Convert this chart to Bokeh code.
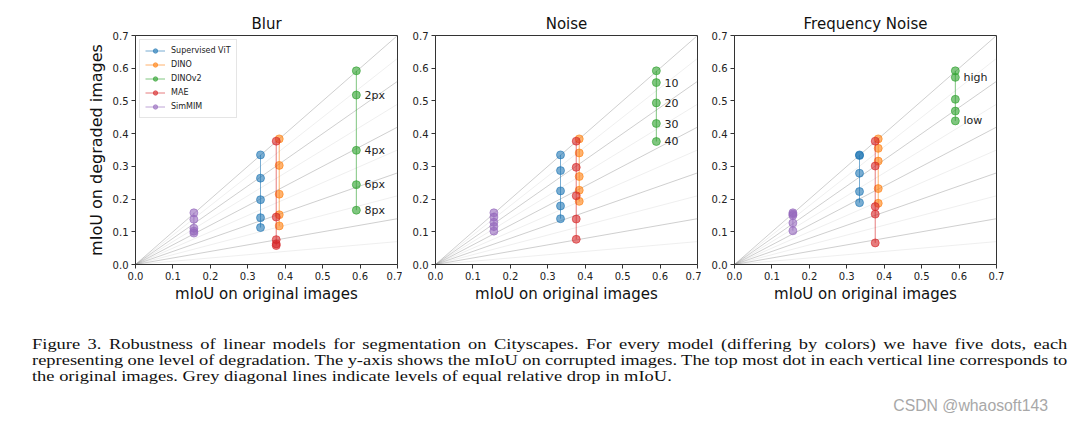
from bokeh.plotting import figure
from bokeh.layouts import row, column
from bokeh.models import Div, Range1d, FixedTicker, NumeralTickFormatter, Legend, LegendItem
from bokeh.embed import file_html
from bokeh.resources import INLINE
from bokeh.core.properties import value

# ---------------- data ----------------
models = ["Supervised ViT", "DINO", "DINOv2", "MAE", "SimMIM"]
colors = ["#1f77b4", "#ff7f0e", "#2ca02c", "#d62728", "#9467bd"]
orig_miou = [0.334, 0.384, 0.590, 0.376, 0.156]

panel_titles = ["Blur", "Noise", "Frequency Noise"]

blur_sup = [0.335, 0.264, 0.198, 0.143, 0.113]
blur_dino = [0.384, 0.303, 0.215, 0.152, 0.118]
blur_dinov2 = [0.592, 0.518, 0.349, 0.244, 0.166]
blur_mae = [0.377, 0.145, 0.076, 0.063, 0.058]
blur_simmim = [0.158, 0.138, 0.111, 0.102, 0.096]

noise_sup = [0.335, 0.287, 0.225, 0.179, 0.140]
noise_dino = [0.384, 0.341, 0.269, 0.227, 0.193]
noise_dinov2 = [0.592, 0.556, 0.494, 0.431, 0.376]
noise_mae = [0.377, 0.297, 0.210, 0.139, 0.077]
noise_simmim = [0.158, 0.145, 0.129, 0.116, 0.102]

freq_sup = [0.335, 0.333, 0.279, 0.223, 0.189]
freq_dino = [0.384, 0.355, 0.316, 0.232, 0.187]
freq_dinov2 = [0.592, 0.572, 0.505, 0.469, 0.439]
freq_mae = [0.377, 0.301, 0.177, 0.154, 0.066]
freq_simmim = [0.158, 0.154, 0.150, 0.127, 0.103]

blur_levels = ["", "2px", "4px", "6px", "8px"]
noise_levels = ["", "10", "20", "30", "40"]
freq_levels = ["", "high", "", "", "low"]

dark_slopes = [1.0, 0.8, 0.6, 0.4, 0.2]
light_slopes = [0.9, 0.7, 0.5, 0.3, 0.1]

axis_ticks = [0.0, 0.1, 0.2, 0.3, 0.4, 0.5, 0.6, 0.7]

panels = [
    [blur_sup, blur_dino, blur_dinov2, blur_mae, blur_simmim],
    [noise_sup, noise_dino, noise_dinov2, noise_mae, noise_simmim],
    [freq_sup, freq_dino, freq_dinov2, freq_mae, freq_simmim],
]
panel_levels = [blur_levels, noise_levels, freq_levels]

# ---------------- drawing ----------------
FONT = "DejaVu Sans"
AX_MAX = axis_ticks[-1]
FRAME_W, FRAME_H = 262, 229
borders_left = [135, 33, 33]
borders_right = [5, 4, 10]

figs = []
for i, (title, series, levels) in enumerate(zip(panel_titles, panels, panel_levels)):
    p = figure(frame_width=FRAME_W, frame_height=FRAME_H,
               min_border_left=borders_left[i], min_border_right=borders_right[i],
               min_border_top=35, min_border_bottom=50,
               x_range=Range1d(0, AX_MAX), y_range=Range1d(0, AX_MAX),
               output_backend="svg", toolbar_location=None, title=title)
    p.title.text_font = FONT
    p.title.text_font_size = "15px"
    p.title.text_font_style = "normal"
    p.title.align = "center"
    p.title.text_color = "#111111"
    p.title.standoff = 5
    p.grid.visible = False
    p.outline_line_color = "#333333"
    p.outline_line_width = 1
    p.background_fill_color = "white"
    p.border_fill_color = "white"

    for ax in (p.xaxis, p.yaxis):
        ax.ticker = FixedTicker(ticks=axis_ticks)
        ax.formatter = NumeralTickFormatter(format="0.0")
        ax.minor_tick_line_color = None
        ax.major_tick_out = 4
        ax.major_tick_in = 0
        ax.major_tick_line_color = "#333333"
        ax.axis_line_color = "#333333"
        ax.major_label_text_font = FONT
        ax.major_label_text_font_size = "10px"
        ax.major_label_text_color = "#222222"
        ax.major_label_standoff = 3
        ax.axis_label_text_font = FONT
        ax.axis_label_text_font_style = "normal"
        ax.axis_label_text_color = "#111111"
    p.xaxis.axis_label = "mIoU on original images"
    p.xaxis.axis_label_text_font_size = "15px"
    p.xaxis.axis_label_standoff = 2
    if i == 0:
        p.yaxis.axis_label = "mIoU on degraded images"
        p.yaxis.axis_label_text_font_size = "16px"
        p.yaxis.axis_label_standoff = 4

    # reference lines of equal relative drop
    p.segment(x0=[0] * len(dark_slopes), y0=[0] * len(dark_slopes),
              x1=[AX_MAX] * len(dark_slopes), y1=[AX_MAX * s for s in dark_slopes],
              line_color="gray", line_alpha=0.55, line_width=0.7)
    p.segment(x0=[0] * len(light_slopes), y0=[0] * len(light_slopes),
              x1=[AX_MAX] * len(light_slopes), y1=[AX_MAX * s for s in light_slopes],
              line_color="gray", line_alpha=0.18, line_width=0.7)

    items = []
    for name, col, x0, ys in zip(models, colors, orig_miou, series):
        xs = [x0] * len(ys)
        lr = p.line(xs, ys, line_color=col, line_alpha=0.6, line_width=1)
        sr = p.scatter(xs, ys, size=8, fill_color=col, fill_alpha=0.6,
                       line_color=col, line_alpha=0.6)
        items.append(LegendItem(label=name, renderers=[lr, sr]))

    # degradation-level labels next to DINOv2
    gx = orig_miou[2]
    lab_y = [y for y, t in zip(series[2], levels) if t]
    lab_t = [t for t in levels if t]
    p.text(x=[gx + 0.022] * len(lab_t), y=lab_y, text=lab_t,
           text_font=value(FONT), text_font_size="11px",
           text_baseline="middle", text_align="left", text_color="#222222")

    if i == 0:
        leg = Legend(items=items, location="top_left")
        leg.label_text_font = FONT
        leg.label_text_font_size = "8px"
        leg.label_text_color = "#222222"
        leg.glyph_width = 20
        leg.glyph_height = 11
        leg.label_height = 11
        leg.label_standoff = 6
        leg.spacing = 3
        leg.padding = 5
        leg.margin = 4
        leg.border_line_color = "#cccccc"
        leg.border_line_width = 1
        leg.background_fill_alpha = 0.85
        p.add_layout(leg)
    figs.append(p)

caption_l1 = ("Figure 3. Robustness of linear models for segmentation on Cityscapes. "
              "For every model (differing by colors) we have five dots, each")
caption_l2 = ("representing one level of degradation. The y-axis shows the mIoU on corrupted "
              "images. The top most dot in each vertical line corresponds to")
caption_l3 = "the original images. Grey diagonal lines indicate levels of equal relative drop in mIoU."
watermark = "CSDN @whaosoft143"

just = "text-align:justify;text-align-last:justify;word-spacing:-2px;"
caption_html = f"""
<div style="position:relative;width:1075px;height:105px;">
<div style="position:absolute;left:27px;top:17px;width:870px;transform:scaleX(1.19);transform-origin:0 0;font-family:'Liberation Serif','Times New Roman',serif;font-size:15.5px;line-height:16px;color:#111;">
<div style="{just}">{caption_l1}</div>
<div style="{just}">{caption_l2}</div>
<div style="text-align:left;">{caption_l3}</div>
</div>
<div style="position:absolute;right:32px;top:79px;line-height:16px;font-family:'Liberation Sans',Arial,sans-serif;font-size:15.8px;color:#a8a8a8;white-space:nowrap;">{watermark}</div>
</div>
"""
caption = Div(text=caption_html, width=1075, height=105)

layout = column(row(*figs, spacing=0), caption, spacing=0)
open("out.html", "w").write(file_html(layout, INLINE))
